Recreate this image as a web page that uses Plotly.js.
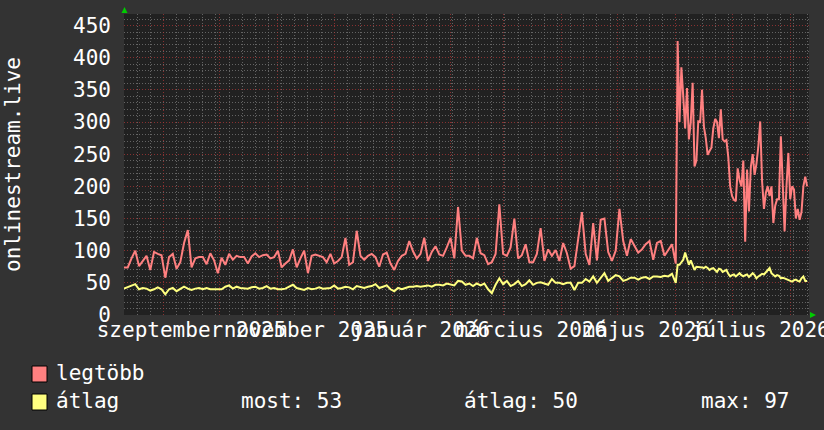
<!DOCTYPE html>
<html><head><meta charset="utf-8">
<script src="https://cdn.plot.ly/plotly-3.0.1.min.js"></script>
<style>html,body{margin:0;padding:0;background:#333333;} #chart{width:824px;height:430px;}</style>
</head><body><div id="chart"></div>
<script>
// ---- data ----
const startDate = [2025, 7, 11];      // 2025-08-11 (UTC), first sample
const earlyStepDays = 2;              // early part sampled every 2 days
const lateStartDay = 294;             // late part: daily samples from day 294
const axisRange = ['2025-08-11', '2026-08-11'];

const maxEarly = [
 74,74,88,100,76,85,92,70,98,95,93,58,90,95,72,82,112,132,74,88,90,90,79,96,85,65,89,78,95,86,92,
 90,90,80,91,96,90,93,94,88,90,100,74,80,85,102,74,88,100,65,92,94,92,90,82,95,80,84,90,120,78,82,
 131,92,86,92,95,90,75,94,97,80,70,84,92,95,115,99,88,95,120,84,98,107,94,92,105,120,88,168,100,92,
 92,88,120,96,93,79,82,95,172,95,92,105,150,88,93,110,82,82,95,135,84,102,92,101,84,112,96,72,76,117,160,
 95,78,143,85,148,150,98,84,100,165,115,92,118,108,97,102,110,115,86,112,115,92,102,110];
const avgEarly = [
 41,43,45,48,40,42,41,38,40,43,40,32,40,42,37,40,44,41,39,41,42,40,42,40,40,41,40,44,46,41,44,
 42,42,41,43,44,41,42,45,41,42,40,40,41,44,47,42,41,39,42,40,41,43,41,42,42,46,41,42,44,43,40,
 45,43,42,44,45,48,42,44,46,40,37,42,40,42,44,44,45,44,45,46,44,47,47,46,49,48,46,53,52,47,
 49,45,49,46,49,40,34,47,57,48,53,45,48,53,45,48,54,47,50,51,49,47,56,50,50,48,50,50,39,50,50,
 56,52,60,50,58,65,53,57,62,60,53,55,58,58,55,58,59,56,60,60,59,61,60,64];
const maxLate = [
 80,426,300,385,340,290,353,273,300,361,
 231,240,301,300,350,293,275,249,255,260,
 290,305,300,275,320,273,270,272,245,200,
 185,179,177,228,210,200,240,114,226,161,
 230,250,218,235,262,301,208,165,190,200,
 185,200,143,170,180,180,278,210,130,200,
 252,180,200,195,150,165,148,160,200,215,
 200];
const avgLate = [
 50,78,78,82,86,97,86,78,85,78,
 70,75,75,75,74,73,75,73,70,72,
 73,70,67,72,71,67,69,70,64,60,
 62,63,60,63,65,62,60,62,63,59,
 62,65,62,57,60,62,64,63,66,70,
 73,65,62,60,62,61,57,58,57,56,
 55,53,52,54,55,53,52,57,60,53,
 53];

const labelDates = ['2025-09-16','2025-11-16','2026-01-16','2026-03-16','2026-05-16','2026-07-16'];
const labelTexts = ['szeptember 2025','november 2025','január 2026','március 2026','május 2026','július 2026'];
const seriesNames = ['legtöbb','átlag'];
const seriesColors = ['#ff8080','#ffff80'];
const statTexts = ['most: 53','átlag: 50','max: 97'];
const yTitle = 'onlinestream.live';

// ---- build ----
const DAY = 86400000;
const t0 = Date.UTC(startDate[0], startDate[1], startDate[2]);
const iso = d => new Date(t0 + d*DAY).toISOString().slice(0,10);
const xs = maxEarly.map((_, i) => iso(i*earlyStepDays)).concat(maxLate.map((_, i) => iso(lateStartDay + i)));
const maxVals = maxEarly.concat(maxLate);
const avgVals = avgEarly.concat(avgLate);

const W = 824, H = 430, L = 124, R = 15, T = 14, B = 115;
const PW = W - L - R, PH = H - T - B;
const px = x => (x - L) / PW;
const py = y => (H - B - y) / PH;

const font = {family: 'DejaVu Sans Mono, monospace', size: 21, color: '#ffffff'};
const majorGrid = 'rgba(170,55,55,0.75)';
const minorGrid = 'rgba(110,110,110,0.85)';
const dash = '1px,2px';

const traces = [
  {x: xs, y: maxVals, type: 'scatter', mode: 'lines', name: seriesNames[0], xaxis: 'x', yaxis: 'y',
   line: {color: seriesColors[0], width: 2}, hoverinfo: 'skip'},
  {x: xs, y: avgVals, type: 'scatter', mode: 'lines', name: seriesNames[1], xaxis: 'x2', yaxis: 'y',
   line: {color: seriesColors[1], width: 2}, hoverinfo: 'skip'}
];

const shapes = [
  {type: 'rect', xref: 'paper', yref: 'paper', x0: px(32), x1: px(47), y0: py(382), y1: py(366),
   fillcolor: seriesColors[0], line: {color: '#000000', width: 1}},
  {type: 'rect', xref: 'paper', yref: 'paper', x0: px(32), x1: px(47), y0: py(410), y1: py(394),
   fillcolor: seriesColors[1], line: {color: '#000000', width: 1}},
  {type: 'path', xref: 'paper', yref: 'paper',
   path: `M ${px(121.5)} ${py(13)} L ${px(127.5)} ${py(13)} L ${px(124.5)} ${py(7)} Z`,
   fillcolor: '#00cc00', line: {width: 0}},
  {type: 'path', xref: 'paper', yref: 'paper',
   path: `M ${px(810)} ${py(312)} L ${px(810)} ${py(318)} L ${px(816)} ${py(315)} Z`,
   fillcolor: '#00cc00', line: {width: 0}}
];

const ann = (text, x, y) => ({text, xref: 'paper', yref: 'paper', x: px(x), y: py(y),
  xanchor: 'left', yanchor: 'middle', showarrow: false, font, borderpad: 0});
const annotations = [
  ann(seriesNames[0], 55, 373),
  ann(seriesNames[1], 55, 401),
  ann(statTexts[0], 240, 401),
  ann(statTexts[1], 463, 401),
  ann(statTexts[2], 700, 401)
];

const layout = {
  width: W, height: H,
  margin: {l: L, r: R, t: T, b: B},
  paper_bgcolor: '#333333', plot_bgcolor: '#212121',
  font, showlegend: false, hovermode: false,
  xaxis: {type: 'date', range: axisRange, tick0: '2025-09-01', dtick: 'M1',
    showticklabels: false, ticks: '', showgrid: true, gridcolor: majorGrid, griddash: dash, gridwidth: 1,
    zeroline: false, showline: false, fixedrange: true,
    minor: {tick0: '2025-08-11', dtick: 7*DAY, showgrid: true, gridcolor: minorGrid, griddash: dash, gridwidth: 1, ticks: ''}},
  xaxis2: {type: 'date', overlaying: 'x', anchor: 'y', side: 'bottom', range: axisRange,
    tickmode: 'array', tickvals: labelDates, ticktext: labelTexts, showgrid: false, zeroline: false,
    showline: false, ticks: '', tickangle: 0, ticklabeloverflow: 'allow', tickfont: font, fixedrange: true},
  yaxis: {range: [0, 468], tick0: 0, dtick: 50, ticks: '', ticklabelstandoff: 12, tickfont: font,
    showgrid: true, gridcolor: majorGrid, griddash: dash, gridwidth: 1, zeroline: false, showline: false,
    fixedrange: true,
    minor: {dtick: 10, showgrid: true, gridcolor: minorGrid, griddash: dash, gridwidth: 1, ticks: ''},
    title: {text: yTitle, font, standoff: 46}},
  shapes, annotations
};

Plotly.newPlot('chart', traces, layout, {staticPlot: true, displayModeBar: false});
</script>
</body></html>
